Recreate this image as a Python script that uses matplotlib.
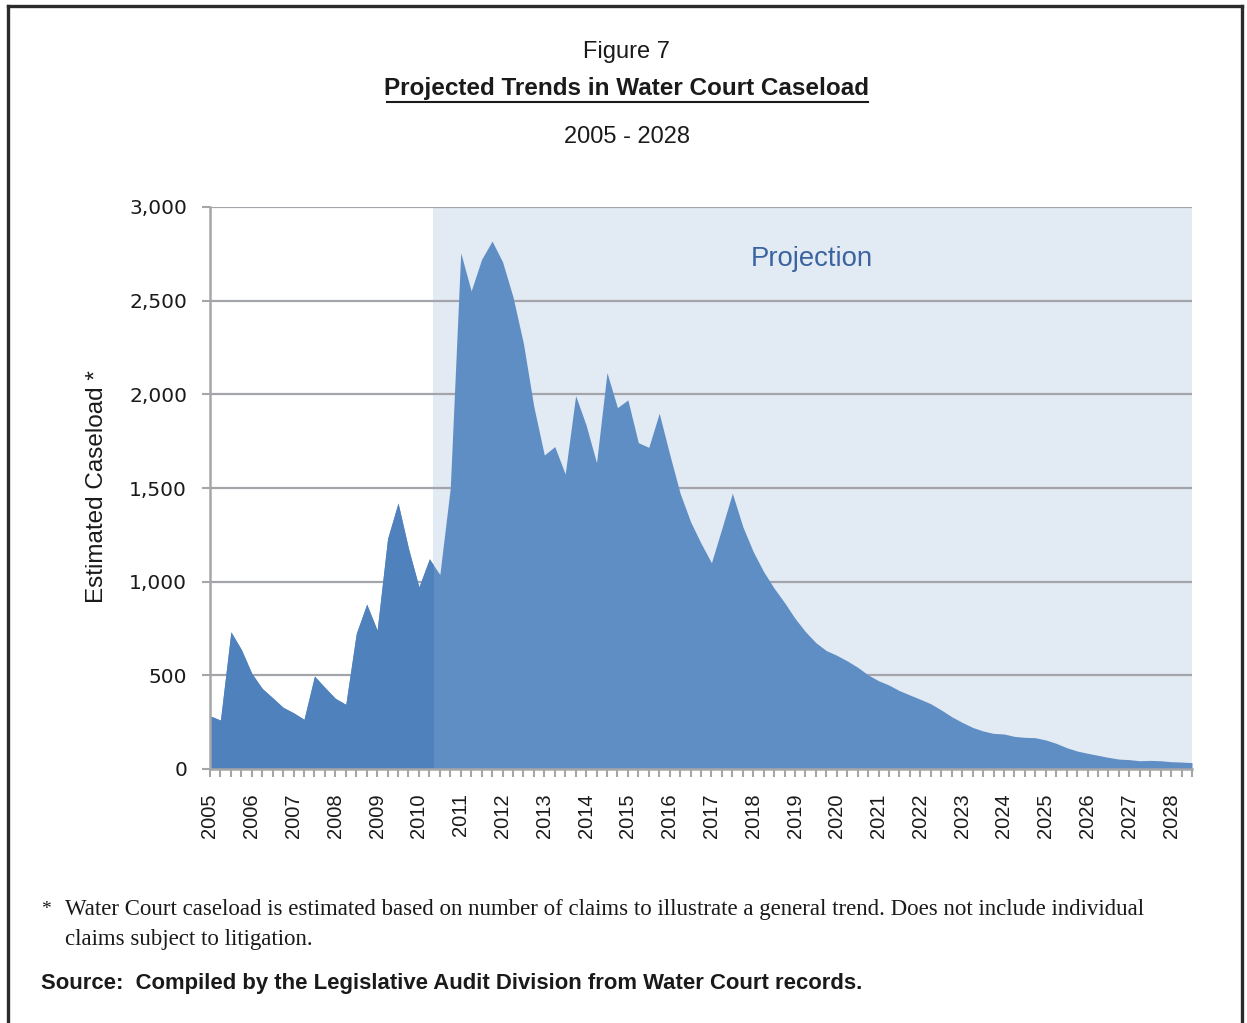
import numpy as np
import matplotlib
matplotlib.use("Agg")
import matplotlib.pyplot as plt
from matplotlib.patches import Rectangle

# Quarterly estimated caseload, 2005 Q1 through mid-2028
caseload = [
    284, 261, 732, 638, 510, 430, 380, 329, 300, 265,
    496, 435, 377, 345, 723, 880, 741, 1230, 1420, 1177,
    972, 1122, 1038, 1500, 2756, 2552, 2721, 2818, 2708, 2521,
    2272, 1934, 1676, 1721, 1575, 1993, 1836, 1635, 2116, 1929,
    1970, 1742, 1717, 1899, 1680, 1472, 1320, 1205, 1101, 1285,
    1472, 1294, 1160, 1053, 965, 888, 804, 733, 674, 632,
    607, 577, 543, 502, 471, 448, 418, 395, 372, 348,
    315, 279, 249, 222, 203, 190, 187, 174, 169, 167,
    155, 137, 114, 96, 84, 73, 62, 53, 50, 44,
    46, 44, 39, 37, 34,
]
year_labels = [str(y) for y in range(2005, 2029)]
y_ticks = [0, 500, 1000, 1500, 2000, 2500, 3000]
projection_start = 21.3  # quarter index where projection shading begins

W, H = 1247, 1023
fig = plt.figure(figsize=(W / 100, H / 100), dpi=100)
fig.patch.set_facecolor("white")

narrow = ["Liberation Sans", "DejaVu Sans"]
sans = ["Liberation Sans", "DejaVu Sans"]
serif = ["Liberation Serif", "DejaVu Serif"]

ax = fig.add_axes([210 / W, 1 - 769 / H, (1192 - 210) / W, (769 - 207) / H])
x = np.arange(len(caseload))
ax.set_xlim(0, len(caseload) - 1)
ax.set_ylim(0, 3000)
ax.set_facecolor("white")

# projection background
ax.axvspan(projection_start, len(caseload) - 1, color="#E2EAF4", zorder=0, lw=0)

# gridlines
for v in y_ticks[1:]:
    ax.axhline(v, color="#A3A5AB", lw=1.6, zorder=1)

# area fills
light = ax.fill_between(x, caseload, 0, color="#5F8EC4", lw=0, zorder=2)
dark = ax.fill_between(x, caseload, 0, color="#4F81BC", lw=0, zorder=3)
clip = Rectangle((0, 0), projection_start, 3000, transform=ax.transData)
dark.set_clip_path(clip)

ax.text(0.613, 0.907, "Projection", transform=ax.transAxes, ha="center", va="center",
        fontsize=19.8, color="#3B63A0", family=sans, zorder=5)

# spines
for s in ["top", "right"]:
    ax.spines[s].set_visible(False)
for s in ["left", "bottom"]:
    ax.spines[s].set_color("#A6A6A6")
    ax.spines[s].set_linewidth(1.8)
    ax.spines[s].set_zorder(6)

ax.set_yticks(y_ticks)
ax.set_yticklabels([f"{v:,}" for v in y_ticks], fontsize=14.5, family=["DejaVu Sans"], color="#1a1a1a")
ax.tick_params(axis="y", length=5.5, width=1.5, color="#A6A6A6", pad=11)

ax.set_xticks(np.arange(0, len(caseload), 4))
ax.set_xticklabels(year_labels, rotation=90, fontsize=14.5, family=sans, color="#1a1a1a")
ax.set_xticks(np.arange(0, len(caseload)), minor=True)
ax.tick_params(axis="x", which="both", length=5.5, width=1.5, color="#A6A6A6", pad=12)

fig.text(97 / W, 1 - 487 / H, "Estimated Caseload *", rotation=90, ha="center", va="center",
         fontsize=17.5, family=sans, color="#1a1a1a")

# titles
fig.text(627 / W, 1 - 52 / H, "Figure 7", ha="center", va="center", fontsize=17,
         family=narrow, color="#1a1a1a")
fig.text(627 / W, 1 - 89 / H, "Projected Trends in Water Court Caseload", ha="center",
         va="center", fontsize=17.5, family=narrow, fontweight="bold", color="#1a1a1a")
fig.add_artist(plt.Line2D([387 / W, 868 / W], [1 - 102 / H, 1 - 102 / H], color="#1a1a1a",
                          lw=1.5, transform=fig.transFigure))
fig.text(627 / W, 1 - 137 / H, "2005 - 2028", ha="center", va="center", fontsize=17,
         family=narrow, color="#1a1a1a")

# footnotes
fig.text(41 / W, 1 - 910 / H, "*", ha="left", va="center", fontsize=14, family=serif, color="#1a1a1a")
fig.text(65 / W, 1 - 910 / H,
         "Water Court caseload is estimated based on number of claims to illustrate a general trend. Does not include individual",
         ha="left", va="center", fontsize=16.5, family=serif, color="#1a1a1a")
fig.text(65 / W, 1 - 940 / H, "claims subject to litigation.", ha="left", va="center",
         fontsize=16.5, family=serif, color="#1a1a1a")
fig.text(41 / W, 1 - 984 / H, "Source:  Compiled by the Legislative Audit Division from Water Court records.",
         ha="left", va="center", fontsize=15.9, family=narrow, fontweight="bold", color="#1a1a1a")

# outer frame (open at bottom)
frame_kw = dict(color="#2b2b2b", lw=2.4, transform=fig.transFigure)
fig.add_artist(plt.Line2D([8 / W, 8 / W], [0, 1 - 6 / H], **frame_kw))
fig.add_artist(plt.Line2D([8 / W, 1242 / W], [1 - 6 / H, 1 - 6 / H], **frame_kw))
fig.add_artist(plt.Line2D([1242 / W, 1242 / W], [0, 1 - 6 / H], **frame_kw))

fig.savefig("out.png", dpi=100, facecolor="white")
